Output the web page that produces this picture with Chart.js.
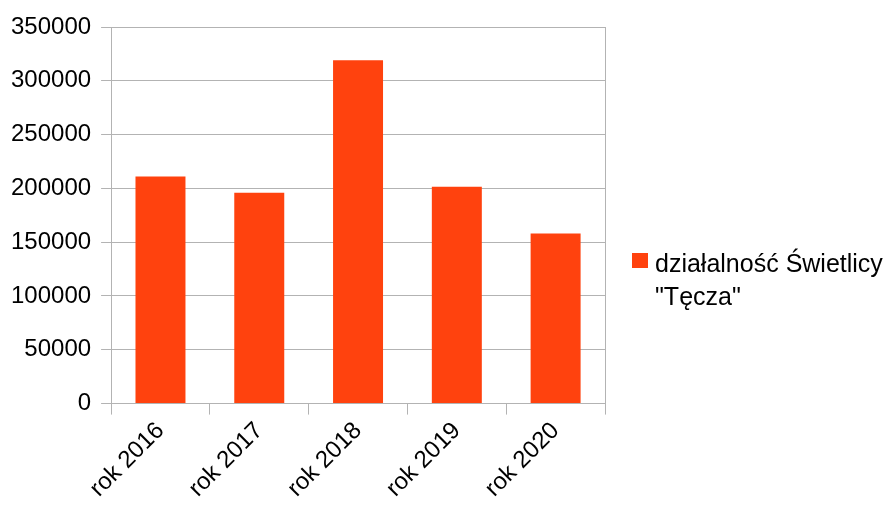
<!DOCTYPE html>
<html>
<head>
<meta charset="utf-8">
<script src="https://cdn.jsdelivr.net/npm/chart.js@4/dist/chart.umd.min.js"></script>
<style>
  html, body { margin: 0; padding: 0; background: #fff; }
  #wrap { width: 896px; height: 507px; position: relative; }
</style>
</head>
<body>
<div id="wrap"><canvas id="chart"></canvas></div>
<script>
// dane
const years = ["rok 2016", "rok 2017", "rok 2018", "rok 2019", "rok 2020"];
const values = [211000, 196000, 319000, 201500, 158000];
const seriesName = ["działalność Świetlicy", "\"Tęcza\""];
const yTicks = [0, 50000, 100000, 150000, 200000, 250000, 300000, 350000];

const barColor = "#ff420e";
const gridColor = "#b3b3b3";
const font = "Liberation Sans, Arial, sans-serif";

// legenda po prawej (dwie linie tekstu)
const sideLegend = {
  id: "sideLegend",
  afterDraw(chart) {
    const c = chart.ctx;
    const ds = chart.data.datasets[0];
    c.save();
    c.fillStyle = ds.backgroundColor;
    c.fillRect(632, 253, 16, 15);
    c.fillStyle = "#000";
    c.font = "25px " + font;
    c.textBaseline = "alphabetic";
    c.fillText(seriesName[0], 655, 272);
    c.fillText(seriesName[1], 655, 305);
    c.restore();
  }
};

new Chart(document.getElementById("chart"), {
  type: "bar",
  data: {
    labels: years,
    datasets: [{
      label: seriesName.join(" "),
      data: values,
      backgroundColor: barColor,
      categoryPercentage: 1,
      barPercentage: 0.506
    }]
  },
  options: {
    responsive: true,
    maintainAspectRatio: false,
    animation: false,
    layout: { padding: { left: 1, right: 291, top: 27, bottom: 2 } },
    plugins: {
      legend: { display: false },
      tooltip: { enabled: false }
    },
    scales: {
      x: {
        grid: { display: true, drawOnChartArea: false, color: gridColor, tickLength: 11, offset: true },
        border: { color: gridColor },
        ticks: {
          color: "#000",
          font: { family: font, size: 24 },
          minRotation: 45, maxRotation: 45,
          padding: 2
        }
      },
      y: {
        min: 0, max: 350000,
        afterBuildTicks(axis) { axis.ticks = yTicks.map(v => ({ value: v })); },
        grid: { color: gridColor, tickLength: 10 },
        border: { color: gridColor },
        ticks: {
          color: "#000",
          font: { family: font, size: 24 },
          padding: 10,
          callback: v => String(v)
        }
      }
    }
  },
  plugins: [sideLegend, {
    id: "frame",
    afterDatasetsDraw(chart) {
      const a = chart.chartArea, c = chart.ctx;
      c.save();
      c.strokeStyle = gridColor;
      c.lineWidth = 1;
      c.beginPath();
      c.moveTo(a.right + 0.5, a.top);
      c.lineTo(a.right + 0.5, a.bottom);
      c.stroke();
      c.restore();
    }
  }]
});
</script>
</body>
</html>
